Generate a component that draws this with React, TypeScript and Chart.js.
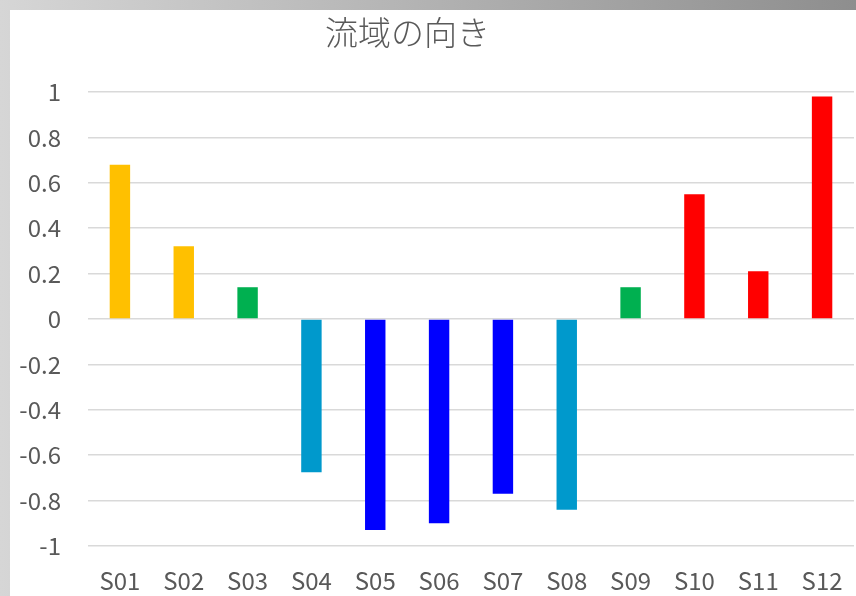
import React, { useEffect, useRef } from "react";
import { Chart, registerables } from "chart.js";

Chart.register(...registerables);

const TITLE = "流域の向き";
const STATIONS = ["S01", "S02", "S03", "S04", "S05", "S06", "S07", "S08", "S09", "S10", "S11", "S12"];
const ORIENTATION = [0.68, 0.32, 0.14, -0.675, -0.93, -0.9, -0.77, -0.84, 0.14, 0.55, 0.21, 0.98];
const BAR_COLORS = [
  "#FFC000", "#FFC000", "#00B050", "#0099CC", "#0000FF", "#0000FF",
  "#0000FF", "#0099CC", "#00B050", "#FF0000", "#FF0000", "#FF0000",
];
const Y_MIN = -1;
const Y_MAX = 1;
const Y_STEP = 0.2;

const LABEL_FONT = "'Noto Sans CJK JP', 'Noto Sans', sans-serif";
const TEXT_GRAY = "#595959";

const titlePlugin = {
  id: "pageTitle",
  afterDraw(chart: Chart) {
    const ctx = chart.ctx;
    ctx.save();
    ctx.font = `300 33px ${LABEL_FONT}`;
    ctx.fillStyle = TEXT_GRAY;
    ctx.textAlign = "center";
    ctx.textBaseline = "middle";
    ctx.fillText(TITLE, chart.width * 0.47, 22);
    ctx.restore();
  },
};

export default function App() {
  const canvasRef = useRef<HTMLCanvasElement | null>(null);

  useEffect(() => {
    document.body.style.margin = "0";
    const canvas = canvasRef.current;
    if (!canvas) return;
    const chart = new Chart(canvas, {
      type: "bar",
      data: {
        labels: STATIONS,
        datasets: [
          {
            data: ORIENTATION,
            backgroundColor: BAR_COLORS,
            borderWidth: 0,
            barPercentage: 0.32,
            categoryPercentage: 1,
          },
        ],
      },
      options: {
        animation: false,
        responsive: false,
        maintainAspectRatio: false,
        layout: { padding: { top: 82, right: 2, bottom: 4, left: 0 } },
        plugins: {
          legend: { display: false },
          title: { display: false },
          tooltip: { enabled: false },
        },
        scales: {
          x: {
            grid: { display: false, drawTicks: false },
            border: { display: false },
            ticks: {
              padding: 2,
              color: TEXT_GRAY,
              // tall line box pushes the category labels down below the plot
              font: { family: LABEL_FONT, size: 24, lineHeight: 2.75 },
            },
            afterFit(scale: any) {
              scale.height = 46;
            },
          },
          y: {
            min: Y_MIN,
            max: Y_MAX,
            grid: { color: "#d9d9d9", lineWidth: 1.5, drawTicks: false },
            border: { display: false },
            ticks: {
              stepSize: Y_STEP,
              padding: 27,
              color: TEXT_GRAY,
              font: { family: LABEL_FONT, size: 24 },
              callback: (v: any) => String(Math.round(Number(v) * 10) / 10),
            },
            afterFit(scale: any) {
              scale.width = 78;
            },
          },
        },
      },
      plugins: [titlePlugin],
    });
    return () => chart.destroy();
  }, []);

  return (
    <div
      style={{
        position: "fixed",
        left: 0,
        top: 0,
        width: 856,
        height: 596,
        background: "linear-gradient(to right, #d6d6d6, #8e8e8e)",
      }}
    >
      <div
        style={{
          position: "absolute",
          left: 10,
          top: 10,
          width: 846,
          height: 586,
          background: "#ffffff",
        }}
      >
        <canvas ref={canvasRef} width={846} height={586} style={{ display: "block" }} />
      </div>
    </div>
  );
}
